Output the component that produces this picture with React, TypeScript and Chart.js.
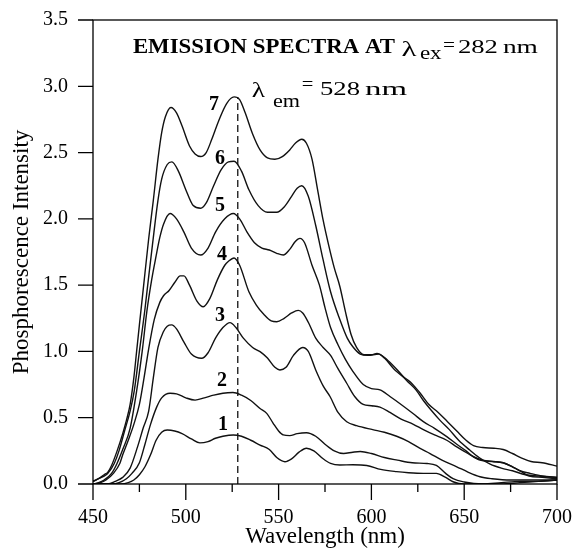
import React, { useEffect, useRef } from 'react';
import { Chart, registerables } from 'chart.js';
Chart.register(...registerables);

// ---- data ----
const c1Wl = [450, 465, 469, 472, 475, 478, 481, 484, 487, 490, 494, 498, 503, 507.6, 512, 516, 520, 525.6, 530, 535, 540, 545, 549, 553.4, 557, 561, 565, 569, 574, 578, 583, 590, 597.5, 605, 613.6, 620, 628, 635, 640, 644, 650, 670, 680, 690, 700];
const c1Int = [0, 0, 0.01, 0.03, 0.07, 0.13, 0.22, 0.33, 0.39, 0.407, 0.4, 0.38, 0.34, 0.31, 0.32, 0.345, 0.36, 0.37, 0.36, 0.33, 0.294, 0.26, 0.2, 0.168, 0.19, 0.24, 0.27, 0.25, 0.19, 0.155, 0.143, 0.145, 0.14, 0.11, 0.093, 0.085, 0.08, 0.08, 0.05, 0.017, 0, 0, 0.01, 0.02, 0.03];

const c2Wl = [450, 460, 464, 468, 471, 475, 478, 481, 484.3, 487, 491.5, 495, 500, 505, 510, 515, 520, 525.4, 530, 535, 540, 543.6, 547, 550, 552.5, 556, 560, 565, 570, 575, 580, 585, 590, 594, 600, 607, 614, 622, 630, 635, 640, 644, 650, 660, 670, 680, 690, 700];
const c2Int = [0, 0, 0.01, 0.04, 0.08, 0.16, 0.3, 0.45, 0.58, 0.65, 0.684, 0.68, 0.65, 0.633, 0.65, 0.67, 0.685, 0.69, 0.67, 0.63, 0.57, 0.533, 0.46, 0.4, 0.37, 0.365, 0.38, 0.387, 0.36, 0.3, 0.25, 0.23, 0.24, 0.245, 0.23, 0.2, 0.18, 0.16, 0.155, 0.14, 0.08, 0.04, 0.015, 0, 0.01, 0.02, 0.02, 0.03];

const c3Wl = [450, 458, 462, 466, 470, 474, 477, 480, 482.5, 485, 488, 490, 492.4, 495, 499, 503, 508.5, 512, 516, 520, 523.8, 527, 531, 536, 540, 544, 548, 550.7, 554, 558, 563, 566, 570, 574, 577.7, 582, 586.7, 592, 600.7, 607, 613.6, 620, 626, 631.6, 638, 646, 652, 658.5, 665, 675, 685, 700];
const c3Int = [0, 0, 0.02, 0.05, 0.12, 0.28, 0.42, 0.55, 0.8, 1.03, 1.15, 1.19, 1.2, 1.17, 1.07, 0.98, 0.948, 0.99, 1.1, 1.18, 1.217, 1.18, 1.1, 1.03, 0.998, 0.95, 0.88, 0.86, 0.88, 0.97, 1.03, 1.0, 0.86, 0.74, 0.66, 0.54, 0.47, 0.44, 0.41, 0.39, 0.36, 0.32, 0.27, 0.23, 0.18, 0.13, 0.09, 0.055, 0.04, 0.03, 0.03, 0.03];

const c4Wl = [450, 454, 457, 461, 464.5, 466, 469, 472, 475, 477.5, 480, 483, 486, 488, 491, 494, 497, 499, 502, 506, 509.4, 513, 517, 521, 523, 526, 529, 534, 538, 542, 546, 549, 553, 557, 560.6, 563, 566, 570, 574, 578, 582, 586.7, 591, 595.6, 600, 604.6, 610, 616, 622.6, 628, 634, 640.6, 646, 652, 658.5, 665, 671, 676, 680, 685, 692, 700];
const c4Int = [0, 0.01, 0.03, 0.08, 0.157, 0.22, 0.33, 0.45, 0.6, 0.8, 1.02, 1.24, 1.37, 1.42, 1.46, 1.52, 1.57, 1.57, 1.5, 1.38, 1.337, 1.4, 1.54, 1.65, 1.68, 1.705, 1.65, 1.45, 1.35, 1.28, 1.23, 1.224, 1.25, 1.29, 1.31, 1.29, 1.22, 1.1, 1.03, 0.97, 0.87, 0.76, 0.66, 0.6, 0.59, 0.58, 0.54, 0.49, 0.45, 0.41, 0.37, 0.33, 0.28, 0.23, 0.18, 0.17, 0.16, 0.13, 0.1, 0.06, 0.05, 0.04];

const c5Wl = [450, 453, 456, 460, 463, 466, 470, 473.5, 476.5, 479, 481.6, 484, 486, 488, 491.5, 495, 499, 503, 508, 512, 516, 521, 525.6, 529, 533, 537, 541, 545, 549, 552.5, 556, 559, 561.5, 564, 568, 572, 575, 578, 582, 586, 590, 595.6, 600, 604.6, 610, 616, 622.6, 628, 634, 640.6, 646, 651, 655, 660, 666, 671, 676, 680, 685.5, 692, 700];
const c5Int = [0, 0.01, 0.03, 0.08, 0.157, 0.26, 0.42, 0.7, 1.0, 1.3, 1.54, 1.72, 1.86, 1.96, 2.04, 2.0, 1.9, 1.78, 1.727, 1.78, 1.9, 2.0, 2.04, 2.0, 1.9, 1.82, 1.78, 1.765, 1.74, 1.727, 1.77, 1.83, 1.853, 1.82, 1.65, 1.5, 1.33, 1.18, 1.05, 0.94, 0.85, 0.75, 0.72, 0.71, 0.66, 0.6, 0.53, 0.47, 0.42, 0.357, 0.3, 0.25, 0.206, 0.18, 0.17, 0.16, 0.13, 0.1, 0.08, 0.06, 0.05];

const c6Wl = [450, 453, 456, 458, 461.5, 464, 467, 470, 472.2, 475, 478, 479.8, 482, 485, 487, 490, 492.5, 496, 500, 504, 508, 511, 515, 519, 523, 526, 530, 534, 539, 544, 549, 553, 557, 560, 562.5, 566, 570, 574, 578, 583, 587, 590, 594, 598, 604, 609, 614, 619, 624, 628, 632, 637, 642, 647, 653, 658, 664, 670, 676, 683, 690, 700];
const c6Int = [0.02, 0.04, 0.06, 0.08, 0.157, 0.25, 0.4, 0.55, 0.7, 1.0, 1.32, 1.54, 1.8, 2.14, 2.3, 2.41, 2.43, 2.36, 2.22, 2.1, 2.08, 2.12, 2.25, 2.37, 2.43, 2.435, 2.36, 2.22, 2.1, 2.05, 2.05, 2.09, 2.17, 2.23, 2.25, 2.17, 1.95, 1.69, 1.45, 1.24, 1.1, 1.035, 0.98, 0.97, 0.98, 0.93, 0.86, 0.78, 0.71, 0.63, 0.56, 0.48, 0.41, 0.33, 0.256, 0.2, 0.15, 0.12, 0.1, 0.07, 0.06, 0.05];

const c7Wl = [450, 453, 456, 458, 460, 463, 466, 468, 470, 472, 473.5, 475, 477, 480, 482.5, 485, 487, 489, 492, 495, 498, 502, 505, 508, 511, 514, 518, 522, 526, 529, 532, 536, 540, 544, 548, 552, 556, 559, 562.5, 565, 568, 571, 574, 577, 580, 583, 586, 589, 592, 596, 600, 603, 607, 612, 617, 621, 626, 631, 636, 641, 646, 651, 655, 660, 666, 671, 676, 681, 686, 692, 700];
const c7Int = [0.02, 0.04, 0.07, 0.09, 0.14, 0.25, 0.38, 0.48, 0.6, 0.8, 1.0, 1.2, 1.46, 1.85, 2.14, 2.45, 2.65, 2.77, 2.84, 2.8, 2.7, 2.55, 2.49, 2.47, 2.5, 2.6, 2.75, 2.87, 2.92, 2.9, 2.8, 2.64, 2.52, 2.46, 2.45, 2.47, 2.52, 2.57, 2.6, 2.57, 2.45, 2.22, 1.99, 1.8, 1.63, 1.49, 1.3, 1.13, 1.03, 0.975, 0.975, 0.985, 0.95, 0.87, 0.81, 0.77, 0.69, 0.6, 0.54, 0.47, 0.4, 0.33, 0.29, 0.275, 0.27, 0.26, 0.23, 0.195, 0.17, 0.16, 0.135];

const curveNames = ['1', '2', '3', '4', '5', '6', '7'];
const labelWl = [520, 519.5, 518.4, 519.5, 518.4, 518.4, 515.2];
const labelInt = [0.445, 0.78, 1.27, 1.73, 2.1, 2.45, 2.86];

const emWl = [528, 528];
const emInt = [0, 2.92];

const xMin = 450, xMax = 700, xStep = 50;
const yMin = 0, yMax = 3.5, yStep = 0.5;

const titleMain = 'EMISSION SPECTRA AT';
const titleEx = '282';
const emValue = '528';
const titleAnchor = [471.5, 3.25];
const emAnchor = [535.5, 2.934];

const serif = '"Liberation Serif", "Times New Roman", serif';

function pts(xs: number[], ys: number[]) {
  return xs.map((x, i) => ({ x, y: ys[i] }));
}

function fitText(ctx: CanvasRenderingContext2D, s: string, x: number, baseline: number, width: number, font: string) {
  ctx.save();
  ctx.font = font;
  const w = ctx.measureText(s).width || 1;
  ctx.translate(x, baseline);
  ctx.scale(width / w, 1);
  ctx.textAlign = 'left';
  ctx.textBaseline = 'alphabetic';
  ctx.fillStyle = '#000';
  ctx.fillText(s, 0, 0);
  ctx.restore();
}

const decorPlugin = {
  id: 'decor',
  afterDraw(chart: any) {
    const ctx: CanvasRenderingContext2D = chart.ctx;
    const { left, right, top, bottom } = chart.chartArea;
    const xs = chart.scales.x;
    const ys = chart.scales.y;
    ctx.save();
    ctx.strokeStyle = '#000';
    ctx.fillStyle = '#000';
    ctx.lineWidth = 1.3;
    ctx.strokeRect(left, top, right - left, bottom - top);

    // tick marks
    ctx.beginPath();
    const xt = xs.ticks.map((t: any) => t.value);
    xt.forEach((v: number, i: number) => {
      const px = xs.getPixelForValue(v);
      ctx.moveTo(px, bottom);
      ctx.lineTo(px, bottom + 16);
      if (i < xt.length - 1) {
        const mp = xs.getPixelForValue((v + xt[i + 1]) / 2);
        ctx.moveTo(mp, bottom);
        ctx.lineTo(mp, bottom + 8);
      }
    });
    ys.ticks.forEach((t: any) => {
      const py = ys.getPixelForValue(t.value);
      ctx.moveTo(left - 15, py);
      ctx.lineTo(left, py);
    });
    ctx.stroke();

    // axis titles
    ctx.font = `23px ${serif}`;
    ctx.textAlign = 'center';
    ctx.textBaseline = 'middle';
    ctx.fillText('Wavelength (nm)', (left + right) / 2, bottom + 53);
    ctx.save();
    ctx.translate(22, (top + bottom) / 2);
    ctx.rotate(-Math.PI / 2);
    ctx.fillText('Phosphorescence Intensity', 0, 0);
    ctx.restore();

    // curve labels
    ctx.font = `bold 20px ${serif}`;
    curveNames.forEach((n, i) => {
      ctx.fillText(n, xs.getPixelForValue(labelWl[i]), ys.getPixelForValue(labelInt[i]));
    });

    // title line
    const tx = xs.getPixelForValue(titleAnchor[0]);
    const tb = ys.getPixelForValue(titleAnchor[1]);
    fitText(ctx, titleMain, tx, tb, 262, `bold 20px ${serif}`);
    fitText(ctx, '\u03BB', tx + 268.7, tb + 3, 15, `21px ${serif}`);
    fitText(ctx, 'ex', tx + 287, tb + 6, 21.7, `18px ${serif}`);
    fitText(ctx, '=', tx + 310, tb - 2, 12, `19px ${serif}`);
    fitText(ctx, titleEx, tx + 325, tb, 40, `19px ${serif}`);
    fitText(ctx, 'nm', tx + 370, tb, 35, `19px ${serif}`);

    // lambda em line
    const ex = xs.getPixelForValue(emAnchor[0]);
    const eb = ys.getPixelForValue(emAnchor[1]);
    fitText(ctx, '\u03BB', ex, eb + 2, 13.3, `21px ${serif}`);
    fitText(ctx, 'em', ex + 21.3, eb + 12, 27, `19px ${serif}`);
    fitText(ctx, '=', ex + 50, eb - 5, 11.6, `19px ${serif}`);
    fitText(ctx, emValue, ex + 68.3, eb, 40, `19px ${serif}`);
    fitText(ctx, 'nm', ex + 113.3, eb, 42, `19px ${serif}`);
    ctx.restore();
  },
};

export default function App() {
  const ref = useRef<HTMLCanvasElement | null>(null);
  useEffect(() => {
    if (!ref.current) return;
    const series = [
      [c1Wl, c1Int], [c2Wl, c2Int], [c3Wl, c3Int], [c4Wl, c4Int],
      [c5Wl, c5Int], [c6Wl, c6Int], [c7Wl, c7Int],
    ];
    const datasets: any[] = series.map(([xs, ys], i) => ({
      label: curveNames[i],
      data: pts(xs, ys),
      borderColor: '#111',
      borderWidth: 1.4,
      pointRadius: 0,
      showLine: true,
      fill: false,
      cubicInterpolationMode: 'monotone',
    }));
    datasets.push({
      label: 'em',
      data: pts(emWl, emInt),
      borderColor: '#111',
      borderWidth: 1.3,
      borderDash: [7, 4],
      pointRadius: 0,
      showLine: true,
      fill: false,
    });
    const chart = new Chart(ref.current, {
      type: 'scatter',
      data: { datasets },
      options: {
        animation: false,
        responsive: false,
        devicePixelRatio: 1,
        layout: { padding: { left: 0, right: 16, top: 20, bottom: 0 } },
        plugins: { legend: { display: false }, tooltip: { enabled: false } },
        scales: {
          x: {
            type: 'linear', min: xMin, max: xMax,
            ticks: { stepSize: xStep, color: '#000', font: { family: serif, size: 20 }, padding: 22, maxRotation: 0, autoSkip: false },
            grid: { display: false, drawTicks: false },
            border: { display: false },
            afterFit: (s: any) => { s.height = 68; s.paddingLeft = 0; s.paddingRight = 0; },
          },
          y: {
            type: 'linear', min: yMin, max: yMax,
            ticks: { stepSize: yStep, color: '#000', font: { family: serif, size: 20 }, padding: 25, callback: (v: any) => Number(v).toFixed(1) },
            grid: { display: false, drawTicks: false },
            border: { display: false },
            afterFit: (s: any) => { s.width = 93; s.paddingTop = 0; s.paddingBottom = 0; },
          },
        },
      },
      plugins: [decorPlugin],
    });
    return () => chart.destroy();
  }, []);
  return (
    <div style={{ position: 'absolute', left: 0, top: 0, width: 573, height: 552, background: '#fff' }}>
      <canvas ref={ref} width={573} height={552} style={{ width: 573, height: 552 }} />
    </div>
  );
}
